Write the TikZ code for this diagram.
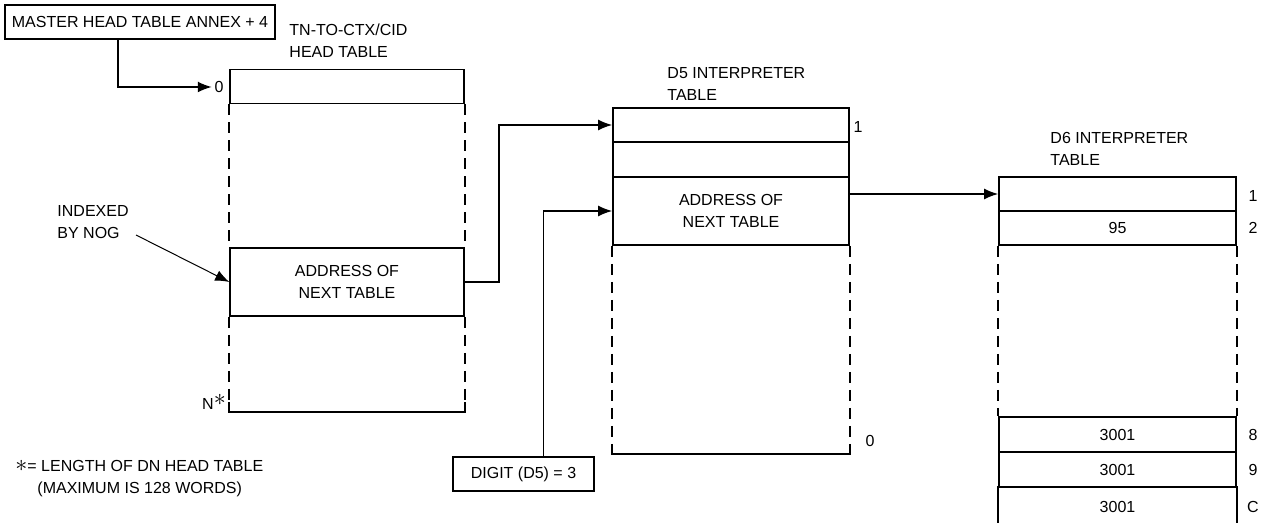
\documentclass[tikz,border=0pt]{standalone}
\usepackage{fontspec}
\setmainfont{Liberation Sans}
\usetikzlibrary{positioning, calc, arrows.meta}

\begin{document}
\begin{tikzpicture}[
        x=0.5pt, y=-0.5pt,
        font=\fontsize{8}{11}\selectfont,
        >={Latex[length=7pt, width=5.5pt]},
        line width=0.8pt,
        % Define the style for the table rows
        rowbox/.style={
            rectangle, draw, line width=0.8pt, inner sep=0pt,
            minimum height=17pt, align=center
        },
        hdrow/.style={rowbox, minimum width=117pt},
        dvrow/.style={rowbox, minimum width=118pt},
        dwrow/.style={rowbox, minimum width=118.5pt},
        tallrow/.style={minimum height=34pt},
        labelbox/.style={rectangle, draw, line width=0.8pt, inner xsep=2pt, minimum height=17pt},
        gapline/.style={line width=0.8pt, dash pattern=on 5.5pt off 3.5pt},
        title/.style={anchor=west, align=left}
    ]
    \useasboundingbox (0,0) rectangle (1263,523);

        % ==========================
        % HEAD TABLE
        % ==========================
        \node[labelbox, minimum width=135pt] (master) at (140,22) {MASTER HEAD TABLE ANNEX + 4};
        \node[title] (hdtitle) at (282,41) {TN-TO-CTX/CID\\HEAD TABLE};

        \node[hdrow] (hd0) at (347,86.5) {};
        \node[hdrow, tallrow] (hdn) at (347,282) {ADDRESS OF\\NEXT TABLE};
        \node[hdrow, minimum height=0pt, draw=none] (hdb) at (347,413) {};
        \draw ([yshift=5pt]hdb.north west) -- (hdb.north west) -- (hdb.north east) -- ([yshift=5pt]hdb.north east);

        \node[inner sep=1pt] (zero) at (219,87) {0};
        \node (nstar) at (214,402) {N\raisebox{2pt}{\large$\ast$}};
        \node[align=left, anchor=west] (nog) at (50,222) {INDEXED\\BY NOG};

        % ==========================
        % D5 INTERPRETER TABLE
        % ==========================
        \node[title] (dvtitle) at (660,84) {D5 INTERPRETER\\TABLE};

        \node[dvrow] (dv1) at (731,125) {};
        \node[dvrow, minimum height=17.5pt] (dv2) at (731,159.5) {};
        \node[dvrow, tallrow] (dv3) at (731,211) {ADDRESS OF\\NEXT TABLE};
        \node[dvrow, minimum height=0pt, draw=none] (dvb) at (731,455) {};
        \draw ([yshift=5pt]dvb.north west) -- (dvb.north west) -- (dvb.north east) -- ([yshift=5pt]dvb.north east);

        \node (dvl1) at (858,127) {1};
        \node (dvl0) at (870,441) {0};

        \node[labelbox, minimum width=70.5pt] (digit) at (523.5,474) {DIGIT (D5) = 3};

        % ==========================
        % D6 INTERPRETER TABLE
        % ==========================
        \node[title] (dwtitle) at (1043,148.5) {D6 INTERPRETER\\TABLE};

        \node[dwrow] (dw1) at (1117.5,194) {};
        \node[dwrow] (dw2) at (1117.5,228) {95};
        \node[dwrow, minimum height=17.5pt] (dw8) at (1117.5,434.5) {3001};
        \node[dwrow, minimum height=17.5pt] (dw9) at (1117.5,469.5) {3001};
        \node[dwrow, minimum height=20pt, draw=none] (dwc) at (1117.5,507) {3001};
        \draw (dwc.north west) -- (dwc.south west);
        \draw (dwc.north east) -- (dwc.south east);

        \node (dwl1) at (1253,196) {1};
        \node (dwl2) at (1253,228) {2};
        \node (dwl8) at (1253,435) {8};
        \node (dwl9) at (1253,470) {9};
        \node (dwlc) at (1253,507) {C};

        % Gaps in the tables (dashed sides)
        \foreach \a/\b in {hd0/hdn, hdn/hdb, dv3/dvb, dw2/dw8} {
            \draw[gapline] (\a.south west) -- (\b.north west);
            \draw[gapline] (\a.south east) -- (\b.north east);
        }

        % ==========================
        % CONNECTIONS
        % ==========================
        \draw[->] ([xshift=57pt]master.south west) |- (zero.west);
        \draw[->, line width=0.5pt] ([yshift=5.5pt]nog.south east) -- (hdn.west);
        \draw[->] (hdn.east) -- ++(34,0) |- (dv1.west);
        \draw[->] ([xshift=10pt]digit.north) |- (dv3.west);
        \draw[->] (dv3.east |- dw1.west) -- (dw1.west);

        % Footnote
        \node[align=left, anchor=west] (note) at (8,479)
            {{\large$\ast$}= LENGTH OF DN HEAD TABLE\\\hspace*{11pt}(MAXIMUM IS 128 WORDS)};

    \end{tikzpicture}
\end{document}
